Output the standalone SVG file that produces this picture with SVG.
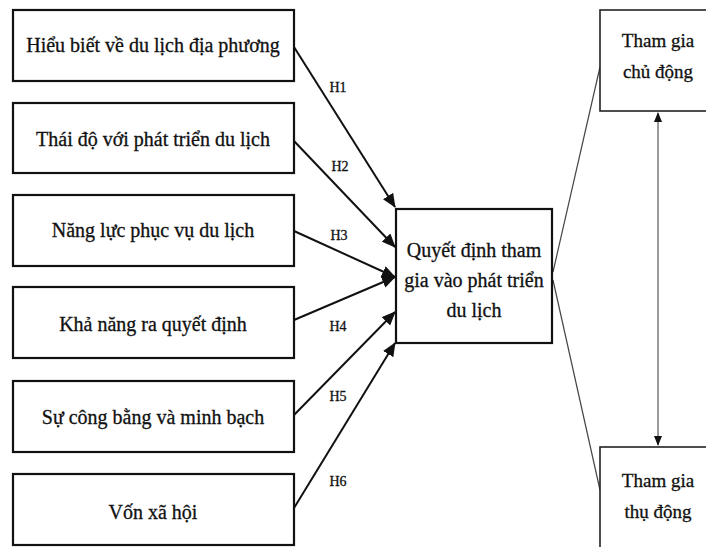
<svg xmlns="http://www.w3.org/2000/svg" width="706" height="547" viewBox="0 0 706 547">
<style>
.box{fill:#fff;stroke:#111;stroke-width:2.2}
.rbox{fill:#fff;stroke:#222;stroke-width:1.6}
.t{font-family:"Liberation Serif","DejaVu Serif",serif;font-size:20px;fill:#111;stroke:#111;stroke-width:0.3;text-anchor:middle}
.tr{font-family:"Liberation Serif","DejaVu Serif",serif;font-size:19px;fill:#111;stroke:#111;stroke-width:0.3;text-anchor:middle}
.h{font-family:"Liberation Serif","DejaVu Serif",serif;font-size:14px;fill:#111;stroke:#111;stroke-width:0.3;text-anchor:middle}
.a{stroke:#111;stroke-width:2;fill:none;marker-end:url(#ah)}
.l{stroke:#444;stroke-width:1.2;fill:none}
.d{stroke:#555;stroke-width:1.2;fill:none;marker-start:url(#sm);marker-end:url(#sm)}
</style>
<defs>
<marker id="ah" markerUnits="userSpaceOnUse" markerWidth="14" markerHeight="12" refX="13" refY="6" orient="auto">
<path d="M0,0 L14,6 L0,12 Z" fill="#111"/>
</marker>
<marker id="sm" markerUnits="userSpaceOnUse" markerWidth="10" markerHeight="10" refX="9" refY="4" orient="auto-start-reverse">
<path d="M0,0 L10,4 L0,8 Z" fill="#111"/>
</marker>
</defs>
<g id="connectors">
<line class="a" x1="294" y1="47" x2="395" y2="207"/>
<line class="a" x1="294" y1="141" x2="395" y2="247"/>
<line class="a" x1="294" y1="231" x2="395" y2="277"/>
<line class="a" x1="294" y1="320" x2="395" y2="277"/>
<line class="a" x1="294" y1="415" x2="395" y2="312"/>
<line class="a" x1="294" y1="508" x2="395" y2="343"/>
<line class="l" x1="553" y1="272" x2="600" y2="67"/>
<line class="l" x1="553" y1="280" x2="600" y2="490"/>
<line class="d" x1="658" y1="113" x2="658" y2="445"/>
<text class="h" x="338" y="92">H1</text>
<text class="h" x="340" y="171">H2</text>
<text class="h" x="339" y="240">H3</text>
<text class="h" x="338" y="331">H4</text>
<text class="h" x="338" y="401">H5</text>
<text class="h" x="338" y="486">H6</text>
</g>
<g id="n1"><rect class="box" x="13" y="10" width="281" height="71"/><text class="t" x="153" y="52">Hiểu biết về du lịch địa phương</text></g>
<g id="n2"><rect class="box" x="13" y="103" width="281" height="70"/><text class="t" x="153" y="146">Thái độ với phát triển du lịch</text></g>
<g id="n3"><rect class="box" x="13" y="195" width="281" height="71"/><text class="t" x="153" y="237">Năng lực phục vụ du lịch</text></g>
<g id="n4"><rect class="box" x="13" y="287" width="281" height="71"/><text class="t" x="153" y="331">Khả năng ra quyết định</text></g>
<g id="n5"><rect class="box" x="13" y="381" width="281" height="71"/><text class="t" x="153" y="424">Sự công bằng và minh bạch</text></g>
<g id="n6"><rect class="box" x="13" y="474" width="281" height="71"/><text class="t" x="153" y="519">Vốn xã hội</text></g>
<g id="center"><rect class="box" x="396" y="209" width="156" height="134"/>
<text class="t" x="474" y="257">Quyết định tham</text>
<text class="t" x="474" y="287">gia vào phát triển</text>
<text class="t" x="474" y="317">du lịch</text></g>
<g id="active"><rect class="rbox" x="600" y="10" width="110" height="101"/>
<text class="tr" x="658" y="47">Tham gia</text>
<text class="tr" x="658" y="78">chủ động</text></g>
<g id="passive"><rect class="rbox" x="600" y="447" width="110" height="110"/>
<text class="tr" x="658" y="487">Tham gia</text>
<text class="tr" x="658" y="518">thụ động</text></g>
</svg>
